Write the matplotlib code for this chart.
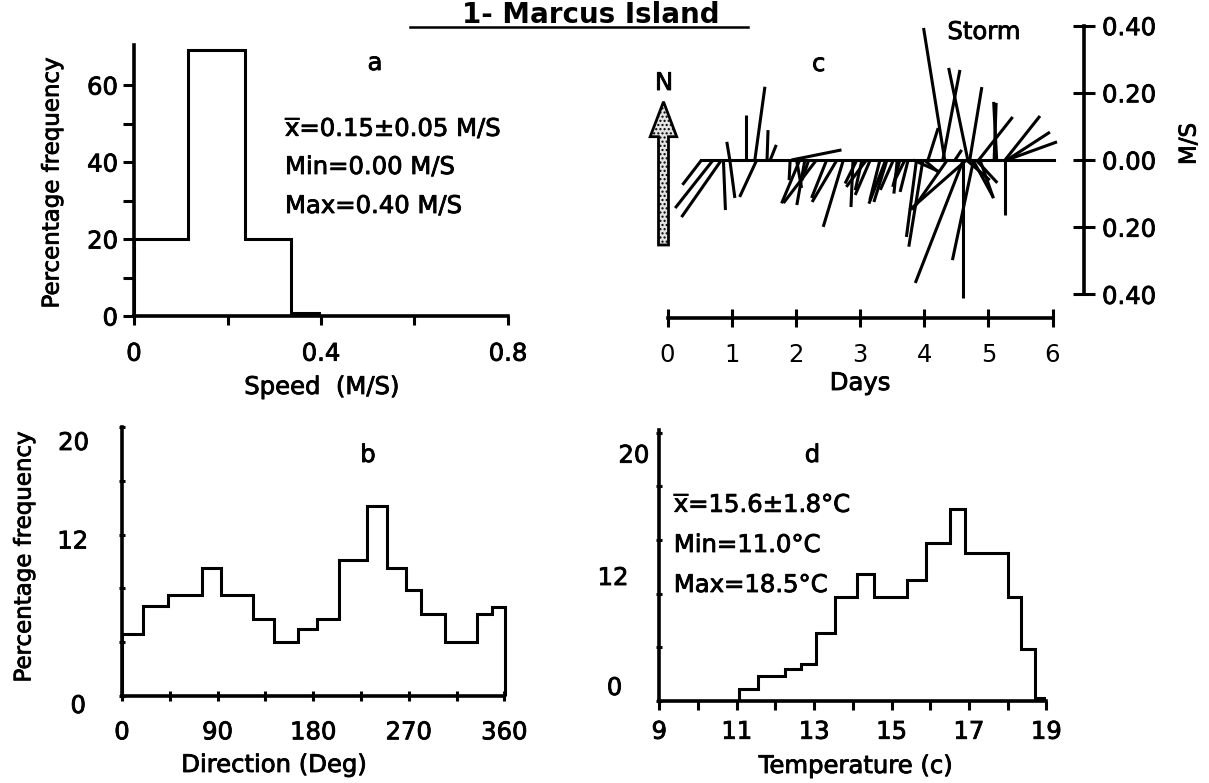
import matplotlib
matplotlib.use("Agg")
import matplotlib.pyplot as plt
import matplotlib.patheffects as pe
from matplotlib.collections import LineCollection
from matplotlib.lines import Line2D
from matplotlib.patches import Polygon
from matplotlib.text import Text
from matplotlib.transforms import offset_copy

plt.rcParams["font.family"] = "DejaVu Sans"
plt.rcParams["mathtext.fontset"] = "dejavusans"
plt.rcParams["hatch.linewidth"] = 1.0

# a - current speed
speed_edges = [0.0, 0.116, 0.238, 0.335, 0.395]
speed_pct = [20, 69, 20, 0.8]

# b - current direction
dir_edges = [0, 19.5, 43, 75, 93, 123.5, 143.5, 166, 183.5, 204, 231, 249.5,
             267.5, 282, 304.5, 334.5, 348, 361]
dir_pct = [4.6, 6.7, 7.5, 9.5, 7.5, 5.7, 4.0, 5.0, 5.7, 10.1, 14.1, 9.5,
           7.9, 6.1, 4.0, 6.1, 6.6]

# c - current vectors (time in days, east / north components in m/s)
stick_day = [0.53, 0.71, 0.84, 0.87, 0.97, 0.97, 1.22, 1.39, 1.36, 1.55, 1.60,
             1.91, 1.93, 2.01, 2.06, 2.14, 2.20, 2.32, 2.48, 2.64, 2.74, 2.89,
             2.95, 3.03, 3.10, 3.16, 3.31, 3.40, 3.42, 3.52, 3.58, 3.62, 3.70,
             3.75, 3.83,
             3.88, 4.00, 4.06, 4.32, 4.36, 4.29, 4.61, 4.61, 3.98, 4.66, 4.68,
             4.71, 4.77, 4.76, 4.81, 4.85, 5.13, 5.09, 5.26, 5.26, 5.29, 5.29,
             4.66, 4.87, 4.48]
stick_u = [-0.057, -0.113, -0.119, 0.006, -0.009, 0.015, 0.0, -0.051, 0.030, 0.003, 0.018,
           -0.003, 0.149, 0.015, -0.054, -0.024, -0.020, -0.098, -0.045, -0.074, -0.060, -0.006,
           -0.035, -0.020, -0.060, -0.045, -0.030, -0.050, -0.039, -0.039, -0.010, -0.021, -0.030,
           -0.024, 0.080,
           -0.030, 0.042, 0.030, -0.063, -0.104, 0.051, -0.143, 0.0, -0.042, -0.170, -0.057,
           0.036, -0.063, 0.060, 0.063, 0.101, -0.009, 0.006, 0.0, 0.104, 0.128, 0.149,
           0.069, 0.040, 0.020]
stick_v = [-0.074, -0.143, -0.170, -0.149, 0.054, -0.113, 0.134, -0.110, 0.218, 0.089, 0.045,
           -0.060, 0.030, -0.083, -0.129, -0.134, -0.060, -0.128, -0.113, -0.125, -0.199, -0.140,
           -0.070, -0.090, -0.080, -0.104, -0.119, -0.130, -0.125, -0.089, -0.100, -0.080, -0.060,
           -0.095, -0.036,
           -0.229, -0.036, 0.095, 0.393, -0.149, 0.268, -0.366, -0.411, -0.258, -0.149, 0.274,
           0.217, -0.298, -0.110, -0.068, 0.128, 0.173, 0.170, -0.164, 0.131, 0.083, 0.054,
           -0.060, -0.114, 0.030]
record_start, record_end = 0.52, 6.03
speed_ticks = [-0.4, -0.2, 0.0, 0.2, 0.4]
speed_labels = ["0.40", "0.20", "0.00", "0.20", "0.40"]

# d - temperature
temp_edges = [11.05, 11.55, 12.25, 12.65, 13.05, 13.55, 14.1, 14.55, 15.4,
              15.9, 16.5, 16.9, 18.0, 18.35, 18.7, 18.95]
temp_pct = [0.9, 1.9, 2.35, 2.75, 5.05, 7.75, 9.45, 7.75, 9.0, 11.8, 14.3,
            11.0, 7.75, 3.9, 0.2]

W, H = 1209, 783
FS = 17.5      # numbers, notes, x labels
FS_Y = 16.5    # rotated axis labels
LW = 2.2
fig = plt.figure(figsize=(W / 100, H / 100), dpi=100)


def box(x0, y0, x1, y1):
    return [x0 / W, 1 - y1 / H, (x1 - x0) / W, (y1 - y0) / H]


def put(x, y, s, **kw):
    kw.setdefault("fontsize", FS)
    kw.setdefault("ha", "center")
    kw.setdefault("va", "center")
    return fig.text(x / W, 1 - y / H, s, **kw)


def frame(ax):
    for side in ("top", "right"):
        ax.spines[side].set_visible(False)
    for side in ("left", "bottom"):
        ax.spines[side].set_linewidth(LW + 0.4)
    ax.patch.set_alpha(0)


def ylabels_at(ax, values, texts, shifts):
    # hand-lettered y labels, each nudged by (dx, dy) pixels from its tick
    for val, txt, (dx, dy) in zip(values, texts, shifts):
        tr = offset_copy(ax.get_yaxis_transform(), fig=fig, x=dx, y=-dy, units="dots")
        ax.text(0, val, txt, transform=tr, ha="right", va="center", fontsize=FS)


# ---- a: speed
ax_a = fig.add_axes(box(134, 45, 508, 316))
frame(ax_a)
ax_a.stairs(speed_pct, speed_edges, baseline=0, color="black", lw=LW)
ax_a.set_xlim(0, 0.8)
ax_a.set_ylim(0, 70.4)
ax_a.set_xticks([0, 0.2, 0.4, 0.6, 0.8], ["0", "", "0.4", "", "0.8"])
ax_a.set_yticks([0, 20, 40, 60])
ax_a.set_yticks([10, 30, 50], minor=True)
ax_a.tick_params(axis="x", direction="out", length=6.5, width=LW, labelsize=FS, pad=12)
ax_a.tick_params(axis="y", which="both", direction="out", length=8, width=LW,
                 labelsize=FS, pad=3.5)
put(322, 387, "Speed  (M/S)")
put(52, 183, "Percentage frequency", rotation=90, fontsize=FS_Y)
put(375, 63, "a")
for yy, s in zip([128, 167, 206],
                 [r"$\overline{\mathrm{x}}$=0.15±0.05 M/S", "Min=0.00 M/S", "Max=0.40 M/S"]):
    put(285, yy, s, ha="left")

# ---- b: direction
ax_b = fig.add_axes(box(122, 427, 504.3, 696))
frame(ax_b)
ax_b.stairs(dir_pct, dir_edges, baseline=0, color="black", lw=LW, clip_on=False)
ax_b.set_xlim(0, 360)
ax_b.set_ylim(0, 20)
ax_b.set_xticks(range(0, 361, 45), ["0", "", "90", "", "180", "", "270", "", "360"])
ax_b.set_yticks(range(0, 21, 4), [""] * 6)
ax_b.tick_params(axis="x", direction="inout", length=7, width=LW, labelsize=FS, pad=14)
ax_b.tick_params(axis="y", direction="inout", length=5, width=LW)
ylabels_at(ax_b, [0, 12, 20], ["0", "12", "20"], [(-36, 10), (-34, 7), (-33, 16)])
put(274, 765, "Direction (Deg)")
put(24, 557, "Percentage frequency", rotation=90, fontsize=FS_Y)
put(368, 455, "b")

# ---- c: current vectors
ax_c = fig.add_axes(box(667.6, 20, 1052.5, 300))
ax_c.patch.set_alpha(0)
ax_c.set_xlim(0, 6)
ax_c.set_ylim(-0.4167, 0.4167)
for side in ("top", "left", "bottom"):
    ax_c.spines[side].set_visible(False)
ax_c.spines["right"].set_position(("data", 6.485))
ax_c.spines["right"].set_bounds(-0.4, 0.4)
ax_c.spines["right"].set_linewidth(LW + 0.4)
ax_c.set_xticks([])
ax_c.yaxis.tick_right()
ax_c.set_yticks(speed_ticks, speed_labels)
ax_c.tick_params(axis="y", direction="inout", length=16.5, width=LW, labelsize=FS, pad=5)

# same pixel scale for both vector components
fig.canvas.draw()
bb = ax_c.get_window_extent()
px_day = bb.width / 6
px_ms = bb.height / (2 * 0.4167)
k = px_ms / px_day
segs = [[(t, 0), (t + u * k, v)] for t, u, v in zip(stick_day, stick_u, stick_v)]
ax_c.add_collection(LineCollection(segs, colors="black", linewidths=LW,
                                   capstyle="butt", clip_on=False))
ax_c.plot([record_start, record_end], [0, 0], color="black", lw=LW, clip_on=False)

ax_days = fig.add_axes(box(667.6, 300, 1052.5, 318.3))
ax_days.patch.set_alpha(0)
for side in ("top", "left", "right"):
    ax_days.spines[side].set_visible(False)
ax_days.spines["bottom"].set_linewidth(LW + 0.4)
ax_days.set_xlim(0, 6)
ax_days.set_xticks(range(7))
ax_days.set_yticks([])
ax_days.tick_params(axis="x", direction="inout", length=13, width=LW, labelsize=FS, pad=11)

put(860, 383, "Days")
put(1189, 144, "M/S", rotation=90, fontsize=FS_Y)
put(818.7, 64, "c")
put(984, 32, "Storm")
put(664, 83, "N")
arrow = [(658.5, 245), (668.5, 245), (668.5, 136.7), (676.7, 136.7),
         (663.5, 101.7), (650.2, 136.7), (658.5, 136.7)]
fig.add_artist(Polygon([(x / W, 1 - y / H) for x, y in arrow], closed=True,
                       facecolor="#e4e4e4", edgecolor="black", lw=2, hatch="....",
                       transform=fig.transFigure))

# ---- d: temperature
ax_d = fig.add_axes(box(659.3, 430, 1046.3, 701))
frame(ax_d)
ax_d.stairs(temp_pct, temp_edges, baseline=0, color="black", lw=LW)
ax_d.set_xlim(9, 19)
ax_d.set_ylim(0, 20.2)
ax_d.set_xticks(range(9, 20), [str(v) if v % 2 else "" for v in range(9, 20)])
ax_d.set_yticks(range(0, 21, 4), [""] * 6)
ax_d.tick_params(axis="x", direction="out", length=6.5, width=LW, labelsize=FS, pad=7)
ax_d.tick_params(axis="y", direction="inout", length=5, width=LW)
ylabels_at(ax_d, [0, 12, 20], ["0", "12", "20"], [(-37, -13), (-31, 38), (-10, 23)])
put(856, 766, "Temperature (c)")
put(812.5, 455, "d")
for yy, s in zip([505, 545, 585],
                 [r"$\overline{\mathrm{x}}$=15.6±1.8°C", "Min=11.0°C", "Max=18.5°C"]):
    put(673.8, yy, s, ha="left")

# slightly heavier lettering, like the typewritten originals
for t in fig.findobj(Text):
    if t.get_text():
        t.set_path_effects([pe.withStroke(linewidth=0.6, foreground="black")])

# ---- title, underlined
put(591, 23, "1- Marcus Island", fontsize=20, fontweight="bold", va="baseline")
fig.add_artist(Line2D([410 / W, 748 / W], [1 - 26.7 / H] * 2, color="black",
                      lw=1.8, transform=fig.transFigure))

fig.savefig("out.png", dpi=100)
